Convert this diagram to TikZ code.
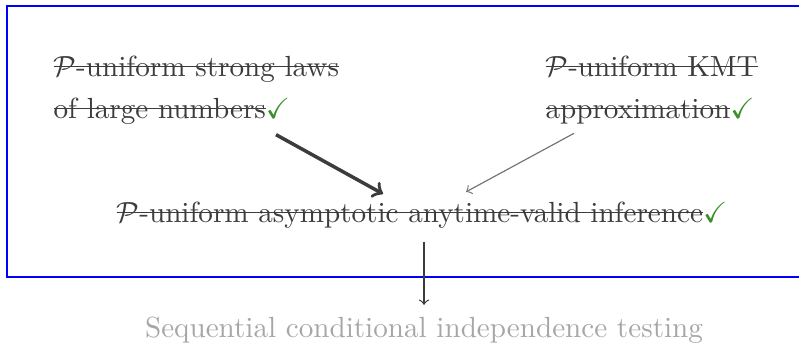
\documentclass[tikz,border=0pt]{standalone}
\usepackage{amssymb}
\definecolor{tickgreen}{HTML}{3A8F2A}
\definecolor{inkgray}{HTML}{3C3C3C}
\definecolor{fadegray}{HTML}{A6A6A6}
\newcommand{\tick}{\textcolor{tickgreen}{\checkmark}}
\newsavebox{\strikebox}
\newcommand{\strike}[1]{\sbox\strikebox{#1}\rlap{\usebox\strikebox}\rule[3pt]{\wd\strikebox}{0.4pt}}

\begin{document}
\begin{tikzpicture}[x=0.3432pt, y=-0.3432pt,
    result/.style={inner sep=0pt, text=inkgray, align=left},
    bigarrow/.style={->, very thick, inkgray},
    smallarrow/.style={->, black!55},
  ]
    \useasboundingbox (0,0) rectangle (799,344);

    % Frame
    \draw[blue, line width=0.7pt] (7,6) rectangle (810,277);

    % Results
    \node[result, anchor=north west] (slln) at (53,55)
        {\strike{$\mathcal{P}$-uniform strong laws}\\[2.4pt]\strike{of large numbers}\tick};
    \node[result, anchor=north west] (kmt) at (545,55)
        {\strike{$\mathcal{P}$-uniform KMT}\\[2.4pt]\strike{approximation}\tick};
    \node[result, anchor=base] (avi) at (422,222)
        {\strike{$\mathcal{P}$-uniform asymptotic anytime-valid inference}\tick};
    \node[inner sep=0pt, text=fadegray, anchor=base] (cit) at (424,337)
        {Sequential conditional independence testing};

    % Implications
    \draw[bigarrow] ([shift={(223,10)}]slln.south west) -- ([shift={(-39,-7)}]avi.north);
    \draw[smallarrow] ([shift={(29,9)}]kmt.south west) -- ([shift={(44,-9)}]avi.north);
    \draw[->, inkgray] ([yshift=-13*0.3432pt]avi.south -| cit.north) -- ([yshift=11*0.3432pt]cit.north);
\end{tikzpicture}
\end{document}
